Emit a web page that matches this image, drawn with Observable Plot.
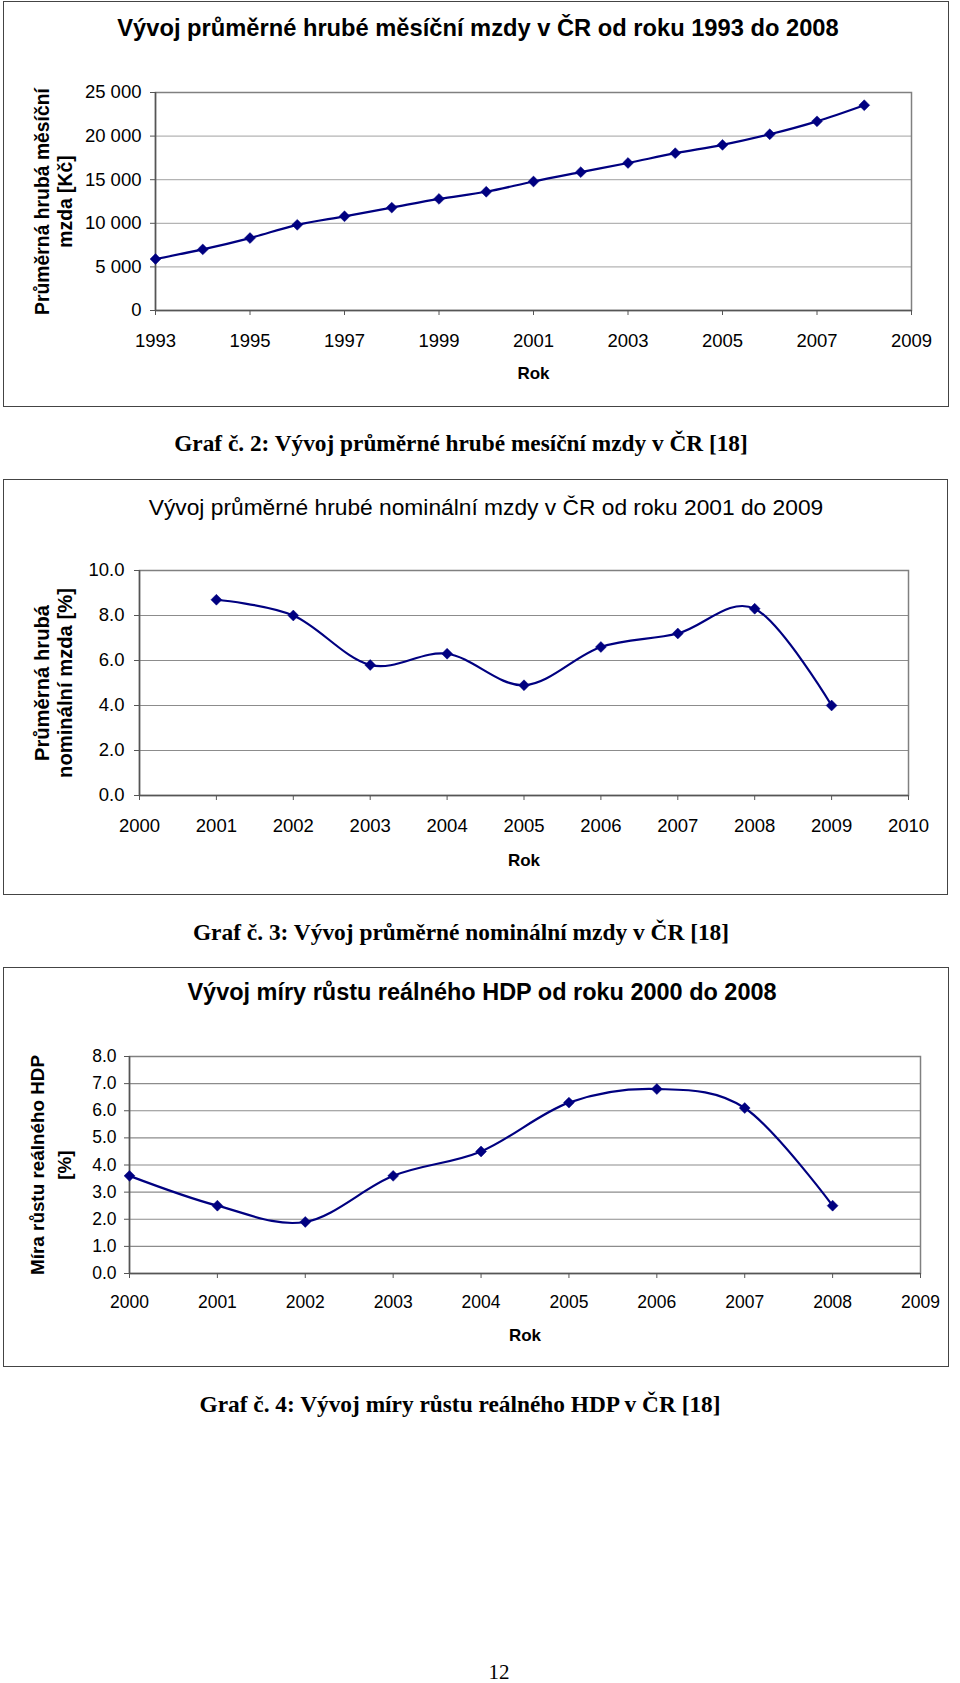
<!DOCTYPE html>
<html><head><meta charset="utf-8">
<script src="https://cdn.jsdelivr.net/npm/d3@7"></script>
<script src="https://cdn.jsdelivr.net/npm/@observablehq/plot@0.6"></script>
<style>
html,body{margin:0;padding:0;background:#fff;}
#page{position:relative;width:960px;height:1683px;overflow:hidden;background:#fff;}
.box{position:absolute;border:1px solid #444;box-sizing:border-box;}
.txt{position:absolute;white-space:nowrap;line-height:1;color:#000;}
.chart{position:absolute;}
</style></head>
<body><div id="page"></div>
<script>
// ---------- DATA ----------
const wageYears  = [1993,1994,1995,1996,1997,1998,1999,2000,2001,2002,2003,2004,2005,2006,2007,2008];
const wageValues = [5904,7004,8307,9825,10802,11801,12797,13614,14793,15866,16917,18041,18992,20211,21694,23542];
const wageXTicks = [1993,1995,1997,1999,2001,2003,2005,2007,2009];
const wageYTicks = [0,5000,10000,15000,20000,25000];

const nomYears  = [2001,2002,2003,2004,2005,2006,2007,2008,2009];
const nomValues = [8.7,8.0,5.8,6.3,4.9,6.6,7.2,8.3,4.0];
const nomXTicks = [2000,2001,2002,2003,2004,2005,2006,2007,2008,2009,2010];
const nomYTicks = [0,2,4,6,8,10];

const gdpYears  = [2000,2001,2002,2003,2004,2005,2006,2007,2008];
const gdpValues = [3.6,2.5,1.9,3.6,4.5,6.3,6.8,6.1,2.5];
const gdpXTicks = [2000,2001,2002,2003,2004,2005,2006,2007,2008,2009];
const gdpYTicks = [0,1,2,3,4,5,6,7,8];

const chartTitles = [
  "Vývoj průměrné hrubé měsíční mzdy v ČR od roku 1993 do 2008",
  "Vývoj průměrné hrubé nominální mzdy v ČR od roku 2001 do 2009",
  "Vývoj míry růstu reálného HDP od roku 2000 do 2008"
];
const yLabels = [
  ["Průměrná hrubá měsíční", "mzda [Kč]"],
  ["Průměrná hrubá", "nominální mzda [%]"],
  ["Míra růstu reálného HDP", "[%]"]
];
const xLabel = "Rok";
const captions = [
  "Graf č. 2: Vývoj průměrné hrubé mesíční mzdy v ČR [18]",
  "Graf č. 3: Vývoj průměrné nominální mzdy v ČR [18]",
  "Graf č. 4: Vývoj míry růstu reálného HDP v ČR [18]"
];
const pageNumber = "12";

// ---------- HELPERS ----------
const page = document.getElementById("page");
const SANS = '"Liberation Sans", Arial, sans-serif';
const SERIF = '"Liberation Serif", "Times New Roman", serif';
const cnv = document.createElement("canvas").getContext("2d");
function measure(text, weight, family) {
  cnv.font = `${weight} 100px ${family}`;
  return cnv.measureText(text).width / 100;
}
function fitSize(text, weight, family, width) { return width / measure(text, weight, family); }

function addText(text, {cx, baseline, width, weight = "normal", family = SANS, size}) {
  const fs = size || fitSize(text, weight, family, width);
  const asc = family === SERIF ? 0.8375 : 0.8465;
  const d = document.createElement("div");
  d.className = "txt";
  d.textContent = text;
  d.style.fontFamily = family;
  d.style.fontWeight = weight;
  d.style.fontSize = fs + "px";
  d.style.top = (baseline - asc * fs) + "px";
  d.style.left = cx + "px";
  d.style.transform = "translateX(-50%)";
  page.appendChild(d);
}
function addBox(left, top, right, bottom) {
  const b = document.createElement("div");
  b.className = "box";
  Object.assign(b.style, {left: left + "px", top: top + "px", width: (right - left) + "px", height: (bottom - top) + "px"});
  page.appendChild(b);
}

function drawChart(cfg) {
  const data = cfg.years.map((yr, i) => ({year: yr, value: cfg.values[i]}));
  const [l1, l2] = cfg.ylabel;
  const lblSize = fitSize(cfg.fitLine === 1 ? l1 : l2, "bold", SANS, cfg.ylabelWidth);
  const W = cfg.right - cfg.left, H = cfg.bottom - cfg.top;
  const plot = Plot.plot({
    width: W, height: H,
    marginLeft: cfg.fx0 - cfg.left, marginRight: cfg.right - cfg.fx1,
    marginTop: cfg.fy0 - cfg.top, marginBottom: cfg.bottom - cfg.fy1,
    style: {background: "transparent", fontFamily: SANS, color: "#000", overflow: "visible"},
    x: {domain: cfg.xDomain},
    y: {domain: cfg.yDomain},
    marks: [
      Plot.ruleY(cfg.yTicks.filter(v => v > cfg.yDomain[0] && v < cfg.yDomain[1]), {stroke: cfg.grid, strokeWidth: 1.2}),
      Plot.frame({stroke: "#808080", strokeWidth: 1.5}),
      Plot.ruleX([cfg.xDomain[0]], {stroke: "#555", strokeWidth: 1.5}),
      Plot.ruleY([cfg.yDomain[0]], {stroke: "#555", strokeWidth: 1.5}),
      Plot.axisX({ticks: cfg.xTicks, tickFormat: d => String(d), tickSize: 5, tickPadding: cfg.xPad,
        stroke: "#555", fill: "#000", fontSize: cfg.tickFont, label: null}),
      Plot.axisY({ticks: cfg.yTicks, tickFormat: cfg.yFormat, tickSize: 5, tickPadding: cfg.yPad,
        stroke: "#555", fill: "#000", fontSize: cfg.tickFont, label: null}),
      Plot.line(data, {x: "year", y: "value", curve: "cardinal", tension: 0, stroke: "#000080", strokeWidth: 2.2}),
      Plot.dot(data, {x: "year", y: "value", symbol: "diamond2", r: 4.9, fill: "#000080", stroke: "#000080", strokeWidth: 0.5}),
      Plot.text([l1 + "\n" + l2], {text: d => d, frameAnchor: "left", textAnchor: "middle", lineAnchor: "middle",
        rotate: -90, dx: cfg.ylabelCx - cfg.fx0,
        fontWeight: "bold", fontSize: lblSize, lineHeight: cfg.ylabelGap / lblSize, fill: "#000"}),
      Plot.text([xLabel], {text: d => d, frameAnchor: "bottom", lineAnchor: "top", dy: cfg.rokDy,
        fontWeight: "bold", fontSize: 17, fill: "#000"})
    ]
  });
  plot.classList.add("chart");
  plot.style.left = cfg.left + "px";
  plot.style.top = cfg.top + "px";
  page.appendChild(plot);
}

const fmtSpace = d => d3.format(",")(d).replace(/,/g, " ");
const fmt1 = d3.format(".1f");

// ---------- CHART 1 ----------
addBox(3, 1, 949, 407);
addText(chartTitles[0], {cx: 478, baseline: 37, width: 722, weight: "bold"});
drawChart({left: 3, top: 1, right: 949, bottom: 407, fx0: 155, fx1: 911, fy0: 92, fy1: 310,
  years: wageYears, values: wageValues, xDomain: [1993, 2009], yDomain: [0, 25000],
  xTicks: wageXTicks, yTicks: wageYTicks, yFormat: fmtSpace, grid: "#b4b4b4",
  tickFont: 18.5, xPad: 18, yPad: 9, ylabel: yLabels[0], fitLine: 1, ylabelWidth: 227,
  ylabelCx: 52.5, ylabelGap: 23, rokDy: 56});
addText(captions[0], {cx: 461, baseline: 452, width: 574, weight: "bold", family: SERIF});

// ---------- CHART 2 ----------
addBox(3, 479, 948, 895);
addText(chartTitles[1], {cx: 486, baseline: 515, width: 675, weight: "normal"});
drawChart({left: 3, top: 479, right: 948, bottom: 895, fx0: 139, fx1: 908, fy0: 570, fy1: 795,
  years: nomYears, values: nomValues, xDomain: [2000, 2010], yDomain: [0, 10],
  xTicks: nomXTicks, yTicks: nomYTicks, yFormat: fmt1, grid: "#8c8c8c",
  tickFont: 18.5, xPad: 18, yPad: 10, ylabel: yLabels[1], fitLine: 2, ylabelWidth: 190,
  ylabelCx: 52.5, ylabelGap: 23, rokDy: 58});
addText(captions[1], {cx: 461, baseline: 941, width: 537, weight: "bold", family: SERIF});

// ---------- CHART 3 ----------
addBox(3, 967, 949, 1367);
addText(chartTitles[2], {cx: 482, baseline: 1001, width: 590, weight: "bold"});
drawChart({left: 3, top: 967, right: 949, bottom: 1367, fx0: 129, fx1: 920, fy0: 1056, fy1: 1273,
  years: gdpYears, values: gdpValues, xDomain: [2000, 2009], yDomain: [0, 8],
  xTicks: gdpXTicks, yTicks: gdpYTicks, yFormat: fmt1, grid: "#8c8c8c",
  tickFont: 17.5, xPad: 17, yPad: 8, ylabel: yLabels[2], fitLine: 1, ylabelWidth: 220,
  ylabelCx: 48.5, ylabelGap: 27, rokDy: 55});
addText(captions[2], {cx: 460, baseline: 1413, width: 523, weight: "bold", family: SERIF});

// ---------- PAGE NUMBER ----------
addText(pageNumber, {cx: 499, baseline: 1680, size: 21, family: SERIF});
</script>
</body></html>
